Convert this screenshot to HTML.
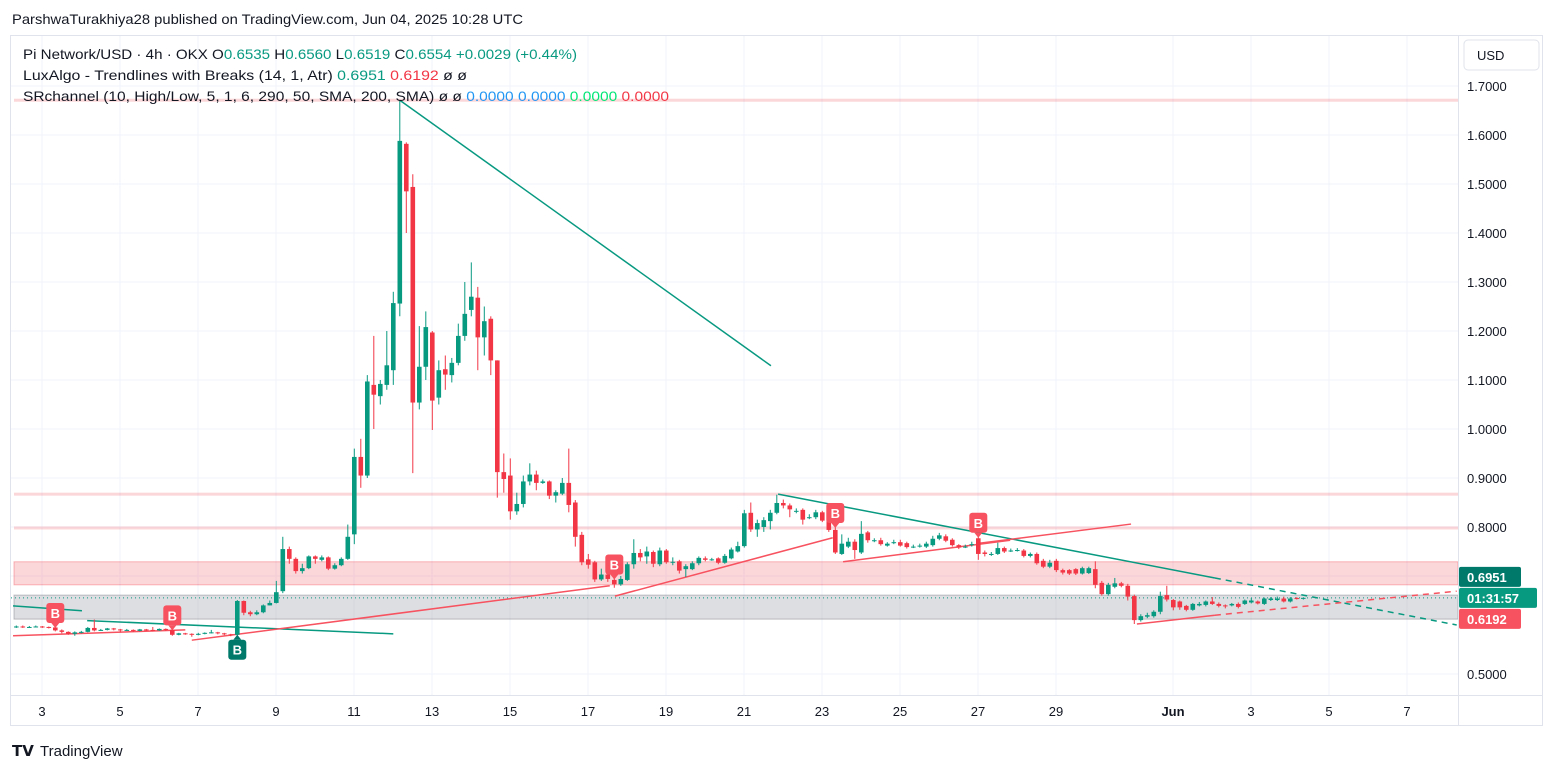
<!DOCTYPE html>
<html><head><meta charset="utf-8"><style>
body{margin:0;background:#fff;width:1553px;height:772px;overflow:hidden;font-family:"Liberation Sans",sans-serif}
svg text{font-family:"Liberation Sans",sans-serif}
</style></head><body>
<svg id="chart" width="1553" height="772" xmlns="http://www.w3.org/2000/svg">
<rect x="0" y="0" width="1553" height="772" fill="#fff"/>
<text x="12" y="24" font-size="14" fill="#131722" textLength="511" lengthAdjust="spacingAndGlyphs">ParshwaTurakhiya28 published on TradingView.com, Jun 04, 2025 10:28 UTC</text>
<rect x="10.5" y="35.5" width="1532" height="690" fill="none" stroke="#e0e3eb"/>
<g id="grid"></g><g id="zones"></g><g id="lines"></g><g id="candles"></g><g id="markers"></g>
<g font-size="14" xml:space="preserve" style="white-space:pre">
<text x="23" y="59" fill="#131722" textLength="554" lengthAdjust="spacingAndGlyphs">Pi Network/USD · 4h · OKX  O<tspan fill="#089981">0.6535</tspan>  H<tspan fill="#089981">0.6560</tspan>  L<tspan fill="#089981">0.6519</tspan>  C<tspan fill="#089981">0.6554</tspan>  <tspan fill="#089981">+0.0029 (+0.44%)</tspan></text>
<text x="23" y="80" fill="#131722" textLength="444" lengthAdjust="spacingAndGlyphs">LuxAlgo - Trendlines with Breaks (14, 1, Atr)  <tspan fill="#089981">0.6951</tspan>  <tspan fill="#f23645">0.6192</tspan>  ø  ø</text>
<text x="23" y="101" fill="#131722" textLength="646" lengthAdjust="spacingAndGlyphs">SRchannel (10, High/Low, 5, 1, 6, 290, 50, SMA, 200, SMA)  ø  ø  <tspan fill="#2196f3">0.0000</tspan>  <tspan fill="#2196f3">0.0000</tspan>  <tspan fill="#00e676">0.0000</tspan>  <tspan fill="#f23645">0.0000</tspan></text>
</g>
<line x1="1458.5" y1="36" x2="1458.5" y2="725" stroke="#e0e3eb"/>
<line x1="11" y1="695.5" x2="1542" y2="695.5" stroke="#e0e3eb"/>
<g id="yaxis"></g><g id="xaxis"></g>
<rect x="1464" y="40" width="75" height="30" rx="4" fill="#fff" stroke="#e0e3eb"/>
<text x="1477" y="60" font-size="13" fill="#131722">USD</text>
<g id="pricelabels"></g>
<g>
<text x="12" y="756" font-size="15" font-weight="bold" fill="#131722">𝗧𝗩</text>
<text x="40" y="756" font-size="15" fill="#131722">TradingView</text>
</g>
</svg>
<script>
const opens=[.596,.597,.596,.596,.597,.596,.595,.589,.586,.582,.585,.586,.594,.589,.590,.593,.591,.589,.590,.588,.591,.590,.589,.592,.590,.580,.583,.582,.580,.582,.584,.585,.583,.581,.580,.649,.626,.622,.626,.640,.645,.669,.755,.735,.710,.716,.740,.733,.738,.715,.722,.735,.785,.943,.905,1.090,1.067,1.090,1.120,1.256,1.582,1.494,1.054,1.127,1.197,1.064,1.122,1.110,1.135,1.190,1.243,1.268,1.187,1.225,1.140,.912,.905,.832,.847,.893,.907,.890,.893,.864,.868,.890,.850,.784,.734,.728,.693,.703,.692,.683,.692,.724,.747,.740,.749,.724,.752,.729,.730,.714,.714,.726,.736,.734,.736,.727,.736,.750,.761,.829,.795,.800,.812,.829,.849,.844,.833,.835,.820,.820,.830,.820,.794,.745,.760,.770,.748,.789,.773,.773,.762,.769,.769,.767,.760,.762,.760,.763,.776,.781,.774,.763,.760,.765,.777,.748,.745,.745,.757,.752,.753,.752,.741,.745,.731,.719,.731,.712,.712,.714,.705,.706,.714,.686,.663,.678,.685,.680,.659,.610,.617,.618,.627,.661,.651,.648,.639,.631,.640,.641,.648,.643,.640,.640,.643,.643,.646,.648,.643,.651,.651,.654,.648,.655,.6535];
const closes=[.597,.596,.596,.597,.596,.595,.589,.586,.582,.585,.586,.594,.589,.590,.593,.591,.589,.590,.588,.591,.590,.589,.592,.590,.580,.583,.582,.580,.582,.584,.585,.583,.581,.580,.649,.625,.622,.626,.640,.645,.667,.755,.735,.710,.716,.740,.735,.738,.715,.722,.735,.780,.943,.905,1.097,1.070,1.092,1.130,1.257,1.588,1.485,1.054,1.127,1.208,1.058,1.120,1.111,1.135,1.190,1.235,1.270,1.187,1.220,1.140,.912,.898,.832,.847,.893,.907,.890,.893,.864,.871,.890,.845,.780,.728,.723,.693,.703,.694,.683,.694,.724,.747,.738,.750,.725,.752,.728,.729,.711,.720,.726,.737,.733,.734,.727,.741,.754,.761,.828,.795,.808,.814,.829,.849,.844,.836,.833,.815,.820,.830,.813,.794,.748,.766,.770,.753,.786,.773,.773,.765,.766,.769,.762,.759,.760,.762,.766,.776,.783,.772,.763,.758,.760,.765,.745,.745,.745,.757,.750,.752,.753,.741,.745,.726,.719,.727,.712,.707,.705,.705,.716,.716,.682,.663,.682,.685,.680,.658,.610,.618,.620,.627,.659,.652,.636,.636,.631,.643,.643,.648,.643,.639,.639,.643,.637,.650,.650,.644,.654,.654,.654,.648,.654,.654,.6554];
const highs=[.599,.599,.598,.599,.598,.597,.596,.591,.587,.587,.588,.596,.611,.592,.594,.594,.592,.592,.591,.592,.592,.596,.593,.593,.591,.584,.584,.583,.584,.585,.590,.586,.584,.582,.651,.650,.629,.630,.642,.650,.690,.780,.760,.738,.725,.742,.742,.742,.740,.726,.738,.805,.960,.980,1.110,1.190,1.100,1.200,1.280,1.670,1.585,1.520,1.210,1.240,1.200,1.140,1.150,1.145,1.215,1.300,1.340,1.290,1.250,1.230,1.140,.950,.940,.870,.905,.930,.915,.897,.895,.875,.900,.960,.855,.790,.745,.731,.715,.712,.695,.700,.728,.775,.755,.760,.752,.758,.755,.738,.733,.724,.730,.740,.740,.737,.738,.745,.758,.770,.835,.850,.815,.820,.835,.866,.856,.848,.838,.838,.826,.835,.833,.823,.800,.785,.778,.775,.812,.792,.777,.778,.769,.774,.774,.770,.764,.766,.770,.782,.788,.785,.777,.765,.764,.770,.780,.752,.749,.768,.760,.756,.757,.755,.748,.748,.735,.733,.735,.715,.714,.716,.719,.719,.730,.690,.686,.696,.688,.684,.662,.622,.625,.630,.668,.680,.653,.650,.641,.645,.647,.650,.657,.646,.642,.645,.646,.652,.655,.650,.656,.657,.658,.658,.657,.657,.656];
const lows=[.594,.594,.594,.595,.594,.593,.587,.583,.580,.578,.583,.585,.587,.588,.589,.589,.585,.588,.586,.587,.588,.587,.588,.588,.578,.579,.580,.576,.579,.581,.583,.581,.579,.577,.572,.620,.618,.620,.624,.640,.644,.665,.725,.705,.705,.714,.725,.730,.712,.713,.720,.733,.765,.880,.900,1.000,1.050,1.080,1.090,1.230,1.400,.910,1.040,1.100,.998,1.050,1.080,1.095,1.130,1.180,1.230,1.120,1.150,1.110,.860,.870,.815,.825,.840,.885,.875,.888,.857,.850,.865,.830,.760,.722,.715,.688,.690,.688,.676,.680,.690,.715,.730,.725,.718,.720,.725,.722,.705,.698,.712,.722,.730,.731,.724,.725,.734,.748,.758,.790,.780,.790,.795,.826,.838,.820,.828,.805,.816,.816,.810,.790,.745,.743,.757,.735,.745,.768,.769,.762,.760,.765,.760,.756,.757,.758,.757,.760,.773,.769,.760,.755,.757,.760,.733,.740,.741,.743,.747,.749,.750,.738,.738,.723,.716,.716,.708,.703,.702,.702,.703,.704,.675,.660,.660,.675,.677,.650,.602,.607,.614,.615,.622,.648,.630,.631,.628,.629,.638,.638,.641,.636,.634,.638,.634,.641,.644,.642,.641,.649,.649,.646,.646,.652,.6519];
const priceTicks=["1.7000","1.6000","1.5000","1.4000","1.3000","1.2000","1.1000","1.0000","0.9000","0.8000","0.7000","0.5000"];
const dateTicks=[3,5,7,9,11,13,15,17,19,21,23,25,27,29,32,34,36,38];
const dateLabels=["3","5","7","9","11","13","15","17","19","21","23","25","27","29","Jun","3","5","7"];
const srLevels=[1.671,0.867,0.798];
const resZone=[0.729,0.682];
const supZone=[0.661,0.612];
const greenLines=[[[59,1.671],[116.1,1.129]],[[-0.5,0.639],[10.1,0.629]],[[10.9,0.609],[58,0.582]],[[117.2,0.867],[184.4,0.696]]];
const redLines=[[[-0.5,0.578],[26,0.590]],[[27,0.569],[91.3,0.680]],[[92.1,0.659],[125.6,0.778]],[[127.2,0.729],[152.9,0.773]],[[148.3,0.767],[171.5,0.806]],[[172.4,0.602],[184.4,0.620]]];
const greenDash=[[184.4,0.696],[221.6,0.600]];
const redDash=[[184.4,0.620],[221.6,0.669]];
const breakMarkers=[[6,'up'],[24,'up'],[92,'up'],[126,'up'],[148,'up'],[34,'down']];
const lastPrice=0.6554, upperLabel=0.6951, lowerLabel=0.6192;

const NS='http://www.w3.org/2000/svg';
const y=p=>86+(1.7-p)*490;
const x=i=>16.3+6.5*i;
const dayX=d=>42+(d-3)*39;
function mk(tag,at,parent){const e=document.createElementNS(NS,tag);for(const k in at)e.setAttribute(k,at[k]);document.getElementById(parent).appendChild(e);return e;}
const G='#089981',R='#f23645';
priceTicks.forEach(t=>{const ln=mk('line',{x1:11,x2:1458,y1:y(+t),y2:y(+t),stroke:'#f0f3fa'},'grid');


const tx=mk('text',{x:1467,y:y(+t)+5,'font-size':13,fill:'#131722'},'yaxis');tx.textContent=t;

});
dateTicks.forEach((d,k)=>{const ln=mk('line',{x1:dayX(d),x2:dayX(d),y1:36,y2:695,stroke:'#f0f3fa'},'grid');


const tx=mk('text',{x:dayX(d),y:716,'font-size':13,fill:'#131722','text-anchor':'middle','font-weight':dateLabels[k]==='Jun'?'bold':'normal'},'xaxis');tx.textContent=dateLabels[k];

});
srLevels.forEach(p=>{const r=mk('rect',{x:14,width:1444,y:y(p)-1.5,height:3,fill:'rgba(242,54,69,0.2)'},'zones');

});
let z=mk('rect',{x:14,width:1444,y:y(resZone[0]),height:y(resZone[1])-y(resZone[0]),fill:'rgba(242,54,69,0.2)',stroke:'rgba(242,54,69,0.35)'},'zones');


z=mk('rect',{x:14,width:1444,y:y(supZone[0]),height:y(supZone[1])-y(supZone[0]),fill:'rgba(120,123,134,0.25)',stroke:'rgba(120,123,134,0.45)'},'zones');


let cl=mk('line',{x1:11,x2:1458,y1:y(lastPrice),y2:y(lastPrice),stroke:G,'stroke-dasharray':'1 3'},'zones');


function tl(seg,col,dash,name){const l=mk('line',{x1:x(seg[0][0]),y1:y(seg[0][1]),x2:x(seg[1][0]),y2:y(seg[1][1]),stroke:col,'stroke-width':1.5},'lines');if(dash)l.setAttribute('stroke-dasharray','6 5');

}
greenLines.forEach(s=>tl(s,G,false,'upper-trendline'));
redLines.forEach(s=>tl(s,'#f7525f',false,'lower-trendline'));
tl(greenDash,G,true,'upper-trendline-projection');
tl(redDash,'#f7525f',true,'lower-trendline-projection');
opens.forEach((o,i)=>{const c=closes[i],col=c>=o?G:R,cx=x(i);
const w=mk('line',{x1:cx,x2:cx,y1:y(highs[i]),y2:y(lows[i]),stroke:col,'stroke-width':1},'candles');


const top=y(Math.max(o,c)),h=Math.max(1,y(Math.min(o,c))-top);
const b=mk('rect',{x:cx-2.3,y:top,width:4.6,height:h,fill:col},'candles');

});
breakMarkers.forEach(([i,d])=>{const cx=x(i);let g=document.createElementNS(NS,'g');document.getElementById('markers').appendChild(g);


let by,col,pt;
if(d==='up'){col='#f7525f';by=y(highs[i])-24;pt=`${cx-4},${by+20} ${cx+4},${by+20} ${cx},${by+25}`;}
else{col='#00796b';by=y(lows[i])+1;pt=`${cx-4},${by} ${cx+4},${by} ${cx},${by-5}`;}
const r=document.createElementNS(NS,'rect');r.setAttribute('x',cx-9);r.setAttribute('y',by);r.setAttribute('width',18);r.setAttribute('height',20);r.setAttribute('rx',3);r.setAttribute('fill',col);g.appendChild(r);
const p=document.createElementNS(NS,'polygon');p.setAttribute('points',pt);p.setAttribute('fill',col);g.appendChild(p);
const t=document.createElementNS(NS,'text');t.setAttribute('x',cx);t.setAttribute('y',by+15);t.setAttribute('text-anchor','middle');t.setAttribute('font-size',13);t.setAttribute('font-weight','bold');t.setAttribute('fill','#fff');t.textContent='B';g.appendChild(t);});
[[upperLabel,'#00796b',upperLabel.toFixed(4),'upper-trend-label'],[lastPrice,'#089981','01:31:57','countdown-label'],[lowerLabel,'#f7525f',lowerLabel.toFixed(4),'lower-trend-label']].forEach(([p,col,txt,nm],k)=>{
const cy=k===1?y(lastPrice):(k===0?Math.min(y(p),y(lastPrice)-21):Math.max(y(p),y(lastPrice)+21));
const r=mk('rect',{x:1459,y:cy-10,width:k===1?78:62,height:20,rx:2,fill:col},'pricelabels');


const t=mk('text',{x:1467,y:cy+5,'font-size':13,'font-weight':'bold',fill:'#fff'},'pricelabels');t.textContent=txt;

});
</script>
</body></html>
